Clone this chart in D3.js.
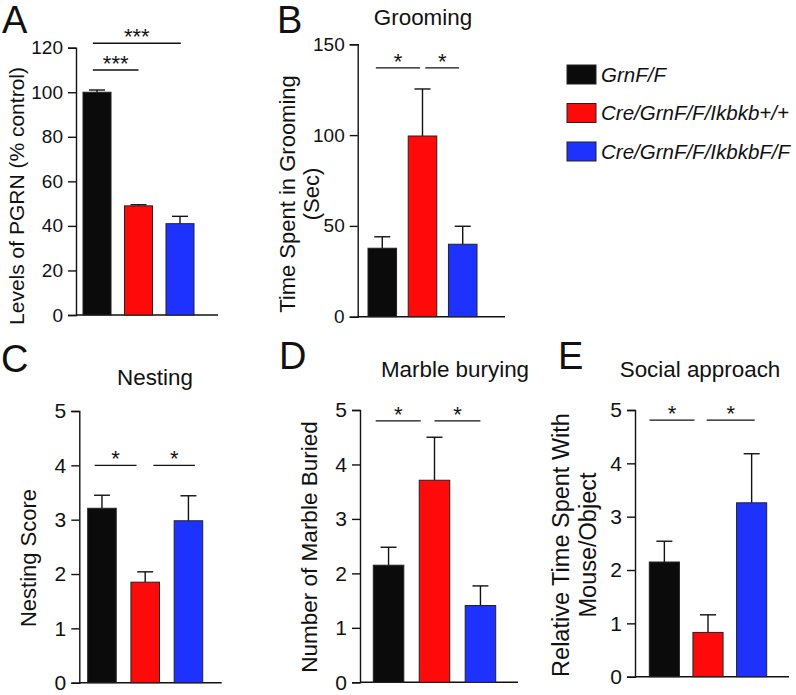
<!DOCTYPE html>
<html><head><meta charset="utf-8">
<script src="https://cdn.jsdelivr.net/npm/d3@7"></script>
<style>
body{margin:0;background:#fff;}
text{font-family:"Liberation Sans",Arial,Helvetica,sans-serif;fill:#111;}
</style></head>
<body><svg id="c" width="796" height="695"></svg>
<script>
// ---------- DATA ----------
const groups = ["GrnF/F", "Cre/GrnF/F/Ikbkb+/+", "Cre/GrnF/F/IkbkbF/F"];
const groupColors = ["#0b0b0b", "#ff0a0a", "#1e32ff"];

const pgrnMean = [100, 49, 41];
const pgrnErr = [1, 0.5, 3.3];
const pgrnTicks = [0, 20, 40, 60, 80, 100, 120];
const pgrnSig = [[-0.1, 1.0, "***", 110], [-0.1, 2.02, "***", 122]];

const groomMean = [37.7, 99.5, 39.9];
const groomErr = [6.3, 25.9, 9.9];
const groomTicks = [0, 50, 100, 150];
const groomSig = [[-0.16, 0.94, "*", 137], [1.07, 1.91, "*", 137]];

const nestMean = [3.21, 1.85, 2.98];
const nestErr = [0.24, 0.19, 0.46];
const nestTicks = [0, 1, 2, 3, 4, 5];
const nestSig = [[-0.17, 0.8, "*", 4.0], [1.19, 2.15, "*", 4.0]];

const marbleMean = [2.15, 3.71, 1.41];
const marbleErr = [0.33, 0.79, 0.36];
const marbleTicks = [0, 1, 2, 3, 4, 5];
const marbleSig = [[-0.28, 0.7, "*", 4.8], [1.0, 2.0, "*", 4.8]];

const socialMean = [2.15, 0.83, 3.26];
const socialErr = [0.39, 0.33, 0.92];
const socialTicks = [0, 1, 2, 3, 4, 5];
const socialSig = [[-0.34, 0.69, "*", 4.81], [0.97, 2.07, "*", 4.81]];

// ---------- LAYOUT ----------
const svg = d3.select("#c");

const panels = [
  {letter:"A", lx:2, ly:33, mean:pgrnMean, err:pgrnErr, ticks:pgrnTicks, sig:pgrnSig, max:120,
   ax:76, y0:315, yTop:47.7, xEnd:218, bars:[83,194], pad:0.325, tickFont:19,
   title:null, ylabel:["Levels of PGRN (% control)"], ylx:[16], yly:196, ylf:21},
  {letter:"B", lx:277, ly:33, mean:groomMean, err:groomErr, ticks:groomTicks, sig:groomSig, max:150,
   ax:357.7, y0:316.7, yTop:44.3, xEnd:505, bars:[368,477], pad:0.29, tickFont:19,
   title:"Grooming", tx:423, ty:25, ylabel:["Time  Spent in Grooming","(Sec)"], ylx:[287,311], yly:194, ylf:22},
  {letter:"C", lx:1, ly:372, mean:nestMean, err:nestErr, ticks:nestTicks, sig:nestSig, max:5,
   ax:79.3, y0:682.7, yTop:411, xEnd:221.7, bars:[87.7,202.7], pad:0.34, tickFont:21,
   title:"Nesting", tx:155, ty:385, ylabel:["Nesting Score"], ylx:[28], yly:558, ylf:22},
  {letter:"D", lx:279, ly:369, mean:marbleMean, err:marbleErr, ticks:marbleTicks, sig:marbleSig, max:5,
   ax:360, y0:682.3, yTop:410, xEnd:518, bars:[373.3,495.7], pad:0.336, tickFont:21,
   title:"Marble burying", tx:455, ty:376.7, ylabel:["Number of Marble Buried"], ylx:[309], yly:547, ylf:22.5},
  {letter:"E", lx:558, ly:369, mean:socialMean, err:socialErr, ticks:socialTicks, sig:socialSig, max:5,
   ax:635, y0:676.7, yTop:410, xEnd:789, bars:[649.3,766.7], pad:0.31, tickFont:21,
   title:"Social approach", tx:700, ty:376.7, ylabel:["Relative Time Spent With","Mouse/Object"], ylx:[561,588], yly:545, ylf:23.5}
];

panels.forEach(p => {
  const g = svg.append("g");
  const y = d3.scaleLinear().domain([0, p.max]).range([p.y0, p.yTop]);
  const x = d3.scaleBand().domain(d3.range(groups.length)).range(p.bars).paddingInner(p.pad).paddingOuter(0);
  const bw = x.bandwidth();
  const step = x.step();
  const gx = v => x(0) + bw/2 + v*step;

  // axes
  const yAxis = d3.axisLeft(y).tickValues(p.ticks).tickSize(8).tickPadding(5).tickFormat(d3.format("d"));
  const ag = g.append("g").attr("transform", `translate(${p.ax},0)`).call(yAxis);
  ag.select(".domain").attr("stroke", "#111").attr("stroke-width", 1.4);
  ag.selectAll(".tick line").attr("stroke", "#111").attr("stroke-width", 1.4);
  ag.selectAll(".tick text").attr("font-size", p.tickFont).attr("fill", "#111")
    .attr("font-family", '"Liberation Sans",Arial,sans-serif');
  g.append("line").attr("x1", p.ax).attr("x2", p.xEnd).attr("y1", y(0)).attr("y2", y(0))
    .attr("stroke", "#111").attr("stroke-width", 1.4);

  // error bars (upper only)
  const capW = 16;
  g.selectAll(".eb").data(p.mean).enter().append("line")
    .attr("x1", (d,i) => x(i) + bw/2).attr("x2", (d,i) => x(i) + bw/2)
    .attr("y1", d => y(d)).attr("y2", (d,i) => y(d + p.err[i]))
    .attr("stroke", "#111").attr("stroke-width", 1.4);
  g.selectAll(".cap").data(p.mean).enter().append("line")
    .attr("x1", (d,i) => x(i) + bw/2 - capW/2).attr("x2", (d,i) => x(i) + bw/2 + capW/2)
    .attr("y1", (d,i) => y(d + p.err[i])).attr("y2", (d,i) => y(d + p.err[i]))
    .attr("stroke", "#111").attr("stroke-width", 1.4);

  // bars
  g.selectAll(".bar").data(p.mean).enter().append("rect")
    .attr("x", (d,i) => x(i)).attr("width", bw)
    .attr("y", d => y(d)).attr("height", d => y(0) - y(d))
    .attr("fill", (d,i) => groupColors[i]).attr("stroke", "#222").attr("stroke-width", 1);

  // significance
  p.sig.forEach(s => {
    g.append("line").attr("x1", gx(s[0])).attr("x2", gx(s[1])).attr("y1", y(s[3])).attr("y2", y(s[3]))
      .attr("stroke", "#111").attr("stroke-width", 1.4);
    g.append("text").attr("x", (gx(s[0]) + gx(s[1]))/2).attr("y", y(s[3]) + 1)
      .attr("text-anchor", "middle").attr("font-size", 22)
      .text(s[2]);
  });

  // title, letter, y label
  if (p.title) g.append("text").attr("x", p.tx).attr("y", p.ty).attr("text-anchor", "middle")
    .attr("font-size", 22.4).text(p.title);
  g.append("text").attr("x", p.lx).attr("y", p.ly).attr("font-size", 38).text(p.letter);
  p.ylabel.forEach((t, k) => {
    g.append("text").attr("transform", `translate(${p.ylx[k]},${p.yly}) rotate(-90)`)
      .attr("text-anchor", "middle").attr("dy", "0.36em").attr("font-size", p.ylf).text(t);
  });
});

// legend
const leg = svg.append("g");
const legY = d3.scalePoint().domain(d3.range(groups.length)).range([74.5, 151.5]);
groups.forEach((name, i) => {
  leg.append("rect").attr("x", 567).attr("y", legY(i) - 9.5).attr("width", 29).attr("height", 19)
    .attr("fill", groupColors[i]).attr("stroke", "#222").attr("stroke-width", 1);
  leg.append("text").attr("x", 601).attr("y", legY(i)).attr("dy", "0.36em")
    .attr("font-size", 20.5).attr("font-style", "italic").text(name);
});
</script></body></html>
